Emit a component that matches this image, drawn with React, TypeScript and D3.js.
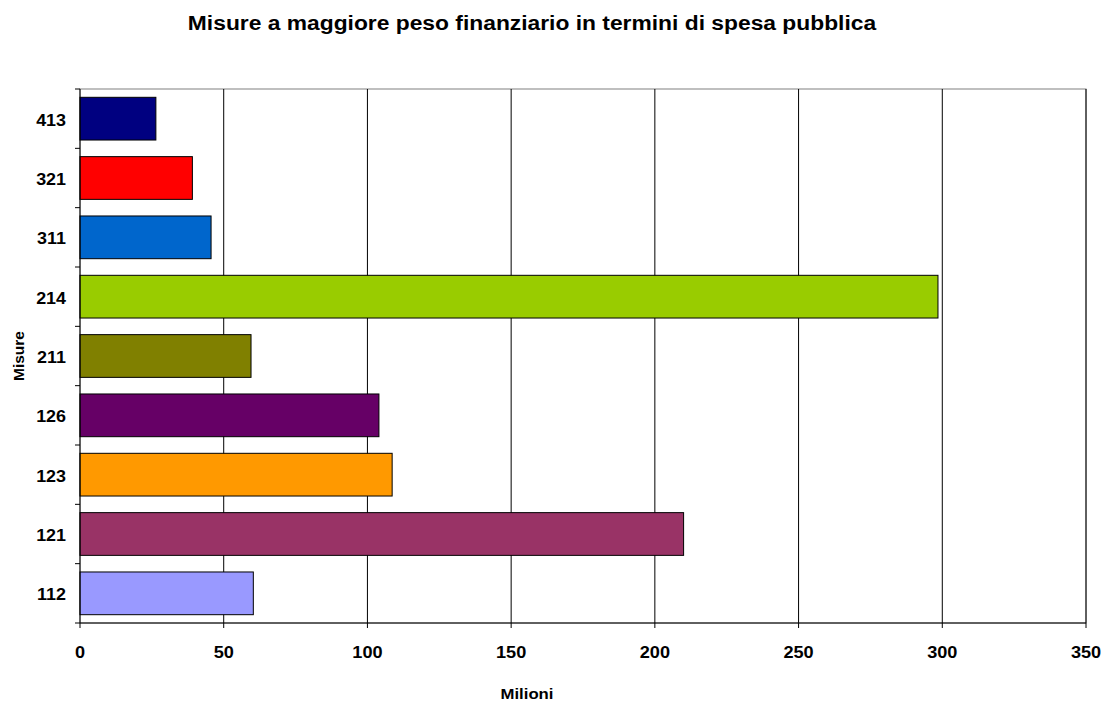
import React from "react";
import * as d3 from "d3";

const categories = ["413", "321", "311", "214", "211", "126", "123", "121", "112"];
const values = [26.4, 39.1, 45.6, 298.5, 59.5, 104, 108.6, 210, 60.3];
const colors = ["#000080", "#FF0000", "#0066CC", "#99CC00", "#808000", "#660066", "#FF9900", "#993366", "#9999FF"];
const xTicks = [0, 50, 100, 150, 200, 250, 300, 350];

const width = 1105;
const height = 702;
const margin = { top: 89, right: 19, bottom: 79, left: 80 };
const font = "'Liberation Sans', Arial, sans-serif";

// bold text, a bit wider than the font draws it (the source looks stretched)
function Label(props: { x: number; y: number; size: number; sx: number; anchor: string; children: React.ReactNode }) {
  return (
    <text
      transform={`translate(${props.x}, ${props.y}) scale(${props.sx}, 1)`}
      textAnchor={props.anchor}
      fontSize={props.size}
      fontWeight="bold"
    >
      {props.children}
    </text>
  );
}

export default function App() {
  const x = d3
    .scaleLinear()
    .domain([0, 350])
    .range([margin.left, width - margin.right]);
  const y = d3
    .scaleBand()
    .domain(categories)
    .range([margin.top, height - margin.bottom])
    .paddingInner(0.28)
    .paddingOuter(0.14);

  const top = margin.top;
  const bottom = height - margin.bottom;
  const step = y.step();
  const band0 = y.range()[0];
  // tick positions at category boundaries
  const yBounds = d3.range(categories.length + 1).map((i) => band0 + i * step);

  return (
    <svg
      width={width}
      height={height}
      style={{ position: "absolute", left: 0, top: 0, background: "#fff" }}
      fontFamily={font}
    >
      <Label x={532} y={30} size={19.5} sx={1.17} anchor="middle">
        Misure a maggiore peso finanziario in termini di spesa pubblica
      </Label>

      {/* plot border */}
      <rect
        x={x(0)}
        y={top}
        width={x(350) - x(0)}
        height={bottom - top}
        fill="none"
        stroke="#808080"
      />

      {/* vertical gridlines */}
      {xTicks.slice(1).map((t) => (
        <line key={t} x1={x(t)} x2={x(t)} y1={top} y2={bottom} stroke="#000" strokeWidth={1} />
      ))}

      {/* bars */}
      {categories.map((c, i) => (
        <rect
          key={c}
          x={x(0)}
          y={y(c)}
          width={x(values[i]) - x(0)}
          height={y.bandwidth()}
          fill={colors[i]}
          stroke="#000"
          strokeWidth={1}
        />
      ))}

      {/* axes */}
      <line x1={x(0)} x2={x(0)} y1={top} y2={bottom} stroke="#000" />
      <line x1={x(0)} x2={x(350)} y1={bottom} y2={bottom} stroke="#000" />
      {yBounds.map((b, i) => (
        <line key={i} x1={x(0) - 5} x2={x(0)} y1={b} y2={b} stroke="#000" />
      ))}
      {xTicks.map((t) => (
        <g key={t}>
          <line x1={x(t)} x2={x(t)} y1={bottom} y2={bottom + 5} stroke="#000" />
          <Label x={x(t)} y={658} size={16.5} sx={1.1} anchor="middle">
            {t}
          </Label>
        </g>
      ))}
      {categories.map((c) => (
        <Label key={c} x={66} y={(y(c) as number) + y.bandwidth() / 2 + 7} size={16} sx={1.12} anchor="end">
          {c}
        </Label>
      ))}

      <Label x={527} y={699} size={15.5} sx={1.08} anchor="middle">
        Milioni
      </Label>
      <text
        transform={`translate(24, ${(top + bottom) / 2}) rotate(-90)`}
        textAnchor="middle"
        fontSize={15.5}
        fontWeight="bold"
      >
        Misure
      </text>
    </svg>
  );
}
